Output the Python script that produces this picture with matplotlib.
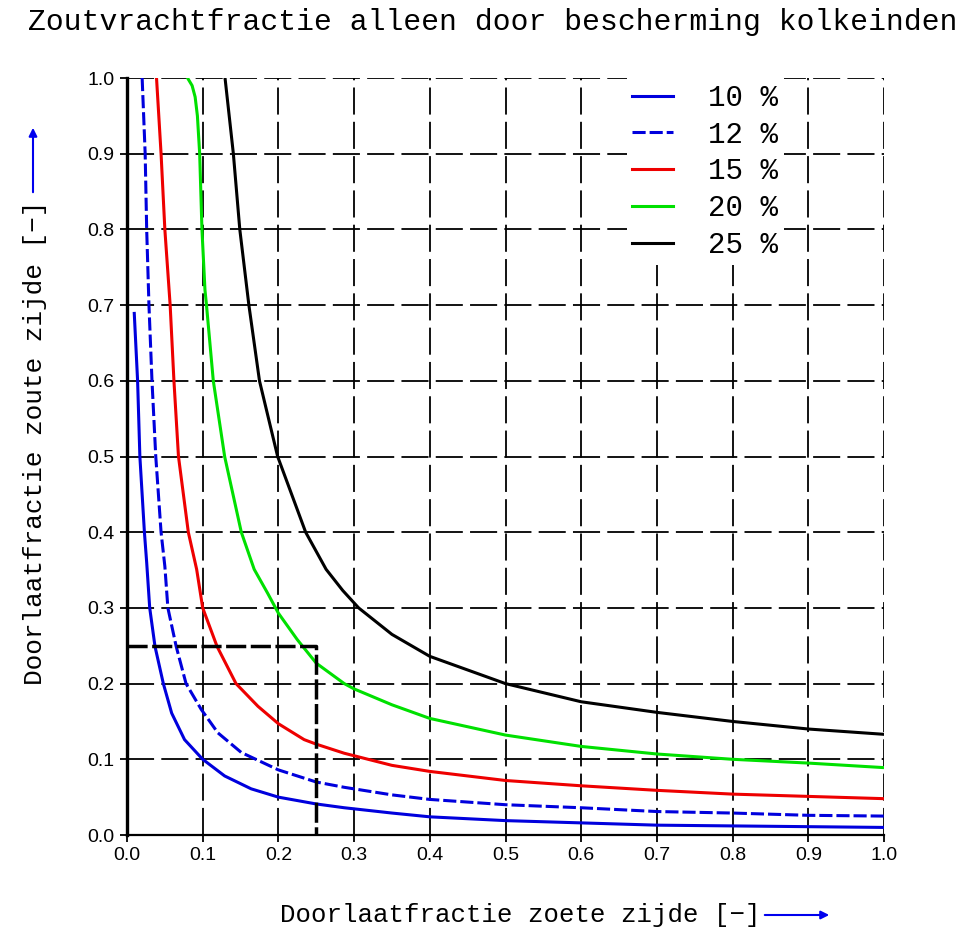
import matplotlib
matplotlib.use("Agg")
import matplotlib.pyplot as plt

# values
x10 = [0.0096, 0.014, 0.017, 0.023, 0.026, 0.030, 0.037, 0.048, 0.059, 0.076, 0.1, 0.129, 0.164, 0.2, 0.25,
       0.287, 0.35, 0.4, 0.5, 0.6, 0.7, 0.8, 0.9, 1.0]
y10 = [0.689, 0.6, 0.5, 0.4, 0.36, 0.30, 0.249, 0.2, 0.161, 0.126, 0.1, 0.078, 0.061, 0.050, 0.041,
       0.036, 0.029, 0.024, 0.019, 0.016, 0.013, 0.012, 0.011, 0.010]

x12 = [0.020, 0.024, 0.026, 0.029, 0.033, 0.038, 0.045, 0.050, 0.054, 0.065, 0.078, 0.098, 0.12, 0.151, 0.2,
       0.25, 0.287, 0.35, 0.4, 0.5, 0.6, 0.7, 0.8, 0.9, 1.0]
y12 = [1.0, 0.9, 0.8, 0.7, 0.6, 0.5, 0.4, 0.355, 0.30, 0.249, 0.2, 0.166, 0.135, 0.109, 0.086,
       0.070, 0.063, 0.053, 0.047, 0.040, 0.036, 0.031, 0.029, 0.026, 0.025]

x15 = [0.039, 0.045, 0.050, 0.057, 0.062, 0.068, 0.081, 0.092, 0.1, 0.119, 0.144, 0.173, 0.2, 0.234, 0.25,
       0.287, 0.35, 0.4, 0.5, 0.6, 0.7, 0.8, 0.9, 1.0]
y15 = [1.0, 0.9, 0.8, 0.7, 0.6, 0.5, 0.4, 0.351, 0.3, 0.249, 0.2, 0.170, 0.147, 0.126, 0.120,
       0.108, 0.092, 0.084, 0.072, 0.065, 0.059, 0.054, 0.051, 0.048]

x20 = [0.080, 0.086, 0.090, 0.093, 0.096, 0.099, 0.103, 0.105, 0.114, 0.129, 0.151, 0.168, 0.186, 0.2, 0.225,
       0.25, 0.287, 0.3, 0.35, 0.4, 0.5, 0.6, 0.7, 0.8, 0.9, 1.0]
y20 = [1.0, 0.99, 0.975, 0.95, 0.9, 0.8, 0.72, 0.7, 0.6, 0.5, 0.4, 0.351, 0.319, 0.293, 0.258,
       0.227, 0.2, 0.193, 0.172, 0.154, 0.132, 0.117, 0.107, 0.100, 0.095, 0.089]

x25 = [0.1295, 0.1405, 0.149, 0.161, 0.175, 0.199, 0.236, 0.263, 0.285, 0.306, 0.35, 0.4, 0.5, 0.6, 0.7,
       0.8, 0.9, 1.0]
y25 = [1.0, 0.9, 0.8, 0.7, 0.6, 0.5, 0.4, 0.351, 0.323, 0.3, 0.265, 0.236, 0.200, 0.176, 0.162,
       0.150, 0.140, 0.133]

labels = ["10 %", "12 %", "15 %", "20 %", "25 %"]
colors = ["#0000dd", "#0000dd", "#ee0000", "#00e000", "black"]

# the dashed box
box_x = [0.0, 0.25, 0.25]
box_y = [0.25, 0.25, 0.0]

ticks = [i / 10 for i in range(11)]
ticklabels = ["%.1f" % t for t in ticks]

mono = "Liberation Mono"


def fit_width(txt, width_px):
    # scale the font so the text spans the width seen in the reference
    fig.canvas.draw()
    w = txt.get_window_extent().width
    txt.set_fontsize(txt.get_fontsize() * width_px / w)


fig = plt.figure(figsize=(9.73, 9.35), dpi=100)
ax = fig.add_axes([127 / 973, 100 / 935, 757 / 973, 757 / 935])

ax.grid(True, color="black", linestyle=(0, (15, 4)), linewidth=1.3)
ax.set_axisbelow(True)

ax.plot(x10, y10, color=colors[0], lw=2.2, label=labels[0])
ax.plot(x12, y12, color=colors[1], lw=2.2, dashes=(4.3, 1.3), label=labels[1])
ax.plot(x15, y15, color=colors[2], lw=2.2, label=labels[2])
ax.plot(x20, y20, color=colors[3], lw=2.2, label=labels[3])
ax.plot(x25, y25, color=colors[4], lw=2.2, label=labels[4])
ax.plot(box_x, box_y, color="black", lw=2.5, dashes=(5.8, 1.3))

ax.set_xlim(0, 1)
ax.set_ylim(0, 1)
ax.set_xticks(ticks)
ax.set_yticks(ticks)
ax.set_xticklabels(ticklabels, fontsize=14, family="Liberation Sans")
ax.set_yticklabels(ticklabels, fontsize=14, family="Liberation Sans")
ax.tick_params(direction="out", length=5, width=1.3, pad=4)

ax.spines["top"].set_visible(False)
ax.spines["right"].set_visible(False)
ax.spines["left"].set_linewidth(2.4)
ax.spines["bottom"].set_linewidth(1.6)

leg = ax.legend(loc="upper left", bbox_to_anchor=(0.66, 1.0), frameon=True,
                framealpha=1, facecolor="white", edgecolor="none",
                prop={"family": mono, "size": 21}, handlelength=1.4,
                handletextpad=1.2, labelspacing=0.3, borderpad=0.2,
                borderaxespad=0, fancybox=False)
leg.set_zorder(5)

title = fig.text(493 / 973, 1 - 22 / 935, "Zoutvrachtfractie alleen door bescherming kolkeinden",
                 ha="center", va="center", family=mono, fontsize=21)
xlab = fig.text(520 / 973, 1 - 915 / 935, "Doorlaatfractie zoete zijde [\u2212]",
                ha="center", va="center", family=mono, fontsize=18)
ylab = fig.text(35 / 973, 1 - 443 / 935, "Doorlaatfractie zoute zijde [\u2212]",
                ha="center", va="center", rotation=90, family=mono, fontsize=18)
fit_width(title, 930)
fit_width(xlab, 479)
fig.canvas.draw()
ylab.set_fontsize(ylab.get_fontsize() * 485 / ylab.get_window_extent().height)

arrow = dict(arrowstyle="-|>", color="#0000ee", lw=1.5, mutation_scale=12)
ax.annotate("", xy=(832 / 973, 1 - 915 / 935), xytext=(762 / 973, 1 - 915 / 935),
            xycoords="figure fraction", textcoords="figure fraction", arrowprops=arrow)
ax.annotate("", xy=(33 / 973, 1 - 125 / 935), xytext=(33 / 973, 1 - 195 / 935),
            xycoords="figure fraction", textcoords="figure fraction", arrowprops=arrow)

fig.savefig("out.png", dpi=100)
